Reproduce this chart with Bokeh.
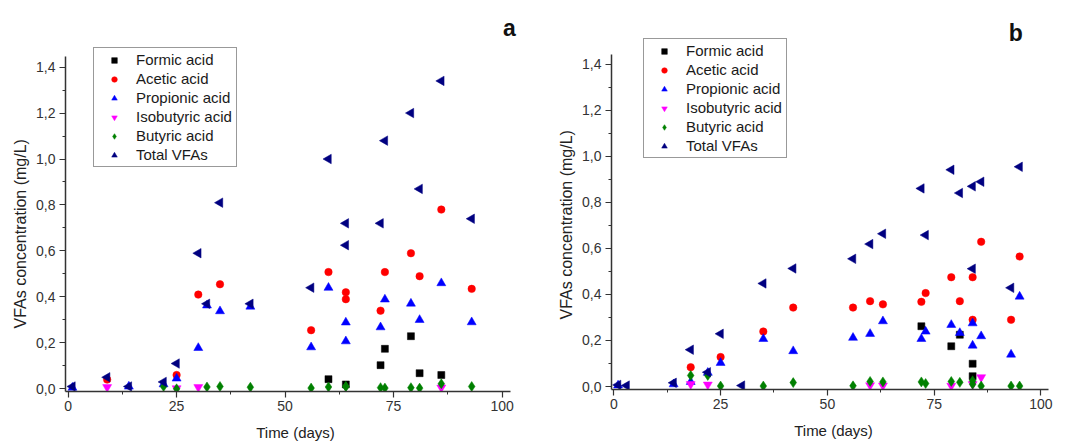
import math
from bokeh.plotting import figure
from bokeh.layouts import row
from bokeh.models import FixedTicker, Legend, LegendItem, Label, Range1d, ColumnDataSource, Title
from bokeh.embed import file_html
from bokeh.resources import INLINE

nan = float("nan")

# ---------------- data ----------------
series_names = ["Formic acid", "Acetic acid", "Propionic acid",
                "Isobutyric acid", "Butyric acid", "Total VFAs"]

# Panel a
days_a = [1, 9, 14, 22, 25, 30, 32, 35, 42, 56, 60, 64, 64, 72, 73, 79, 81, 86, 93]
formic_a = [nan, nan, nan, nan, nan, nan, nan, nan, nan, nan, 0.042, 0.019, nan, 0.103, 0.174, 0.229, 0.068, 0.060, nan]
acetic_a = [nan, 0.04, nan, nan, 0.06, 0.41, nan, 0.455, nan, 0.255, 0.508, 0.42, 0.39, 0.34, 0.508, 0.59, 0.49, 0.78, 0.435]
propionic_a = [0.005, nan, 0.01, 0.02, 0.045, 0.178, 0.363, 0.338, 0.358, 0.181, 0.44, 0.289, 0.207, 0.268, 0.389, 0.371, 0.30, 0.46, 0.29]
isobutyric_a = [nan, 0.007, nan, nan, 0.002, 0.007, nan, nan, nan, nan, nan, nan, nan, nan, nan, nan, nan, 0.005, nan]
butyric_a = [nan, nan, nan, 0.01, 0.0, nan, 0.008, 0.01, 0.007, 0.003, 0.008, 0.01, 0.01, 0.005, 0.003, 0.005, 0.003, 0.022, 0.01]
total_a = [0.01, 0.05, 0.01, 0.03, 0.11, 0.59, 0.37, 0.81, 0.37, 0.44, 1.00, 0.72, 0.625, 0.72, 1.08, 1.20, 0.87, 1.34, 0.74]

# Panel b
days_b = [1, 3, 14, 18, 22, 25, 30, 35, 42, 56, 60, 63, 72, 73, 79, 81, 84, 84, 86, 93, 95]
formic_b = [nan, nan, nan, nan, nan, nan, nan, nan, nan, nan, nan, nan, 0.262, nan, 0.175, 0.225, 0.099, 0.045, nan, nan, nan]
acetic_b = [nan, nan, nan, 0.084, nan, 0.128, nan, 0.239, 0.343, 0.343, 0.371, 0.357, 0.368, 0.406, 0.475, 0.371, 0.475, 0.29, 0.629, 0.29, 0.565]
propionic_b = [0.005, nan, 0.01, 0.02, 0.06, 0.103, nan, 0.207, 0.154, 0.212, 0.229, 0.284, 0.207, 0.239, 0.268, 0.233, 0.275, 0.178, 0.219, 0.139, 0.391]
isobutyric_b = [nan, nan, nan, 0.01, 0.008, nan, nan, nan, nan, nan, 0.005, 0.004, nan, nan, 0.003, nan, 0.01, nan, 0.04, nan, nan]
butyric_b = [nan, nan, nan, 0.048, 0.048, 0.002, nan, 0.002, 0.017, 0.003, 0.022, 0.02, 0.02, 0.013, 0.022, 0.018, 0.025, 0.01, 0.002, 0.002, 0.002]
total_b = [0.007, 0.004, 0.016, 0.16, 0.062, 0.229, 0.004, 0.448, 0.513, 0.555, 0.619, 0.664, 0.861, 0.658, 0.942, 0.841, 0.87, 0.512, 0.89, 0.429, 0.955]

x_ticks = [0, 25, 50, 75, 100]
x_minor_ticks = [0, 12.5, 25, 37.5, 50, 62.5, 75, 87.5, 100]
y_ticks = [0.0, 0.2, 0.4, 0.6, 0.8, 1.0, 1.2, 1.4]
y_tick_labels = ["0,0", "0,2", "0,4", "0,6", "0,8", "1,0", "1,2", "1,4"]
y_minor_ticks = [0.0, 0.1, 0.2, 0.3, 0.4, 0.5, 0.6, 0.7, 0.8, 0.9, 1.0, 1.1, 1.2, 1.3, 1.4]

x_label = "Time (days)"
y_label = "VFAs concentration (mg/L)"

# ---------------- styles ----------------
FONT = "Liberation Sans"
styles = [
    dict(marker="square", color="#000000", size=7, angle=0.0),
    dict(marker="circle", color="#ff0000", size=7.5, angle=0.0),
    dict(marker="triangle", color="#0000ff", size=9, angle=0.0),
    dict(marker="inverted_triangle", color="#ff00ff", size=9, angle=0.0),
    dict(marker="diamond", color="#008000", size=10, angle=0.0),
    dict(marker="triangle", color="#000080", size=9.5, angle=math.pi / 2),
]


def make_panel(days, series, xr, yr, x_bounds, y_bounds, frame_w, frame_h,
               border_left, border_top, border_bottom, border_right,
               legend_loc, tag, tag_x, tag_y, ylab_offset, ylab_standoff):
    p = figure(frame_width=frame_w, frame_height=frame_h,
               min_border_left=border_left, min_border_right=border_right,
               min_border_top=border_top, min_border_bottom=border_bottom,
               x_range=Range1d(*xr), y_range=Range1d(*yr),
               output_backend="svg", toolbar_location=None,
               background_fill_color="white", border_fill_color="white")
    p.outline_line_color = None
    p.xgrid.visible = False
    p.ygrid.visible = False

    items = []
    for name, vals, st in zip(series_names, series, styles):
        src = ColumnDataSource(dict(x=days, y=vals))
        r = p.scatter("x", "y", source=src, marker=st["marker"], size=st["size"],
                      angle=st["angle"], fill_color=st["color"],
                      line_color=st["color"], line_width=0.5)
        items.append(LegendItem(label=name, renderers=[r]))

    leg = Legend(items=items, location=legend_loc)
    leg.label_text_font = FONT
    leg.label_text_font_size = "15px"
    leg.label_text_color = "#1a1a1a"
    leg.label_height = 19
    leg.label_width = 98
    leg.glyph_height = 14
    leg.glyph_width = 36
    leg.label_standoff = 4
    leg.spacing = 0
    leg.padding = 2
    leg.margin = 0
    leg.border_line_color = "#333333"
    leg.border_line_width = 1
    leg.background_fill_color = "white"
    leg.background_fill_alpha = 1.0
    p.add_layout(leg, "center")

    for ax in (p.xaxis[0], p.yaxis[0]):
        ax.axis_line_color = "#333333"
        ax.axis_line_width = 1.5
        ax.major_tick_line_color = "#333333"
        ax.minor_tick_line_color = "#333333"
        ax.major_tick_line_width = 1.2
        ax.minor_tick_line_width = 1.0
        ax.major_tick_in = 0
        ax.major_tick_out = 6
        ax.minor_tick_in = 0
        ax.minor_tick_out = 3
        ax.major_label_text_font = FONT
        ax.major_label_text_font_size = "14px"
        ax.major_label_text_color = "#333333"
        ax.axis_label_text_font = FONT
        ax.axis_label_text_font_size = "15px"
        ax.axis_label_text_font_style = "normal"
        ax.axis_label_text_color = "#222222"

    p.xaxis.bounds = x_bounds
    p.yaxis.bounds = y_bounds
    p.xaxis.ticker = FixedTicker(ticks=x_ticks, minor_ticks=x_minor_ticks)
    p.yaxis.ticker = FixedTicker(ticks=y_ticks, minor_ticks=y_minor_ticks)
    p.yaxis.major_label_overrides = {t: s for t, s in zip(y_ticks, y_tick_labels)}
    p.xaxis.major_label_standoff = 3
    p.yaxis.major_label_standoff = 4
    p.xaxis.axis_label = x_label
    p.xaxis.axis_label_standoff = 10

    # y-axis title, positioned along the visible part of the axis
    yt = Title(text=y_label, align="left", offset=ylab_offset,
               standoff=ylab_standoff, text_font=FONT, text_font_size="16px",
               text_font_style="normal", text_color="#222222")
    p.add_layout(yt, "left")

    lab = Label(x=tag_x, y=tag_y, text=tag, text_font=FONT,
                text_font_size="23px", text_font_style="bold", text_color="#111111",
                text_align="center", text_baseline="alphabetic")
    p.add_layout(lab)
    return p


p1 = make_panel(days_a, [formic_a, acetic_a, propionic_a, isobutyric_a, butyric_a, total_a],
                xr=(-0.6, 105.4), yr=(-0.0117, 1.655),
                x_bounds=(-0.6, 102), y_bounds=(-0.0117, 1.445),
                frame_w=460, frame_h=383,
                border_left=65, border_top=8, border_bottom=53, border_right=25,
                legend_loc=(28, 224), tag="a", tag_x=101.7, tag_y=1.568,
                ylab_offset=63, ylab_standoff=10)
p2 = make_panel(days_b, [formic_b, acetic_b, propionic_b, isobutyric_b, butyric_b, total_b],
                xr=(-0.54, 103.4), yr=(-0.013, 1.643),
                x_bounds=(-0.54, 101.7), y_bounds=(-0.013, 1.445),
                frame_w=444, frame_h=381,
                border_left=58, border_top=8, border_bottom=55, border_right=13,
                legend_loc=(32, 231), tag="b", tag_x=94.1, tag_y=1.535,
                ylab_offset=70, ylab_standoff=10)

layout = row(p1, p2, spacing=0)
open("out.html", "w").write(file_html(layout, INLINE))
